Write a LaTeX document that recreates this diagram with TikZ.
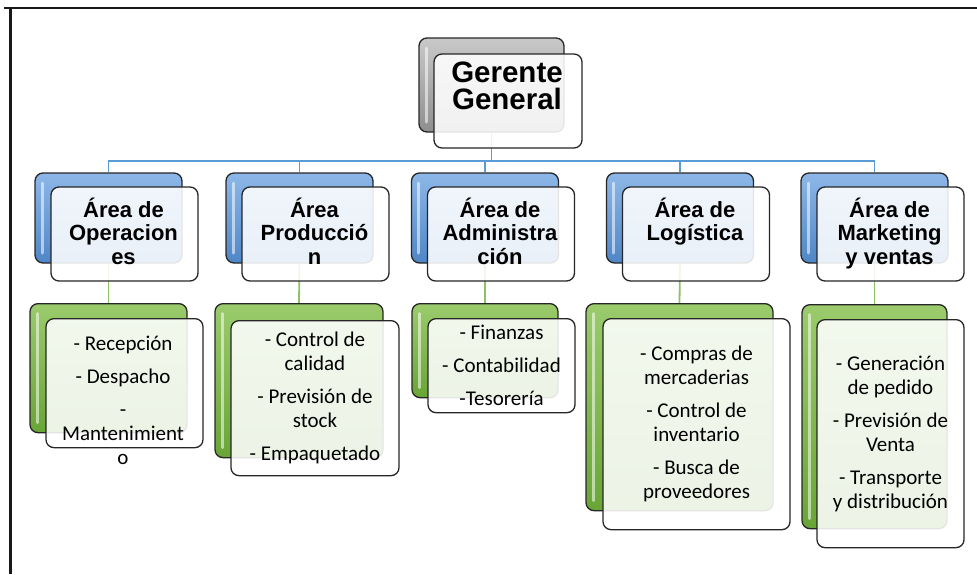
\documentclass[tikz,border=0pt]{standalone}
\usepackage{fontspec}
\setmainfont{Carlito}                       % 列表文字（Calibri 宽度）
\newfontfamily\headfont{Liberation Sans}    % 标题文字（Arial 宽度）
\usetikzlibrary{
  backgrounds,  % 连线放在背景层
  positioning   % 节点相对定位
}
\definecolor{grisA}{HTML}{C9C9C9}
\definecolor{grisB}{HTML}{8E8E8E}
\definecolor{azulA}{HTML}{8DB7E8}
\definecolor{azulB}{HTML}{4F86C6}
\definecolor{verdeA}{HTML}{9BCB6C}
\definecolor{verdeB}{HTML}{69A536}
\definecolor{lineaA}{HTML}{5B9BD5}
\definecolor{lineaV}{HTML}{8DC263}
\newcommand\fuentejefe{\headfont\bfseries\fontsize{29.5}{26.5}\selectfont}
\newcommand\fuentearea{\headfont\bfseries\fontsize{22}{23.5}\selectfont}
\newcommand\fuentelista{\fontsize{21}{24}\selectfont}

\begin{document}
\begin{tikzpicture}[x=1pt, y=-1pt, line width=1.3pt,
  caja/.style={draw=black!85, rounded corners=8pt, inner sep=0pt},
  brillo/.style={path picture={
    \draw[white, opacity=.55, line width=3pt, line cap=round]
      ([shift={(7,10)}]path picture bounding box.north west) --
      ([shift={(7,-10)}]path picture bounding box.south west);}},
  fondogris/.style={caja, top color=grisA, bottom color=grisB, brillo},
  fondoazul/.style={caja, top color=azulA, bottom color=azulB, brillo},
  fondoverde/.style={caja, top color=verdeA, bottom color=verdeB, brillo},
  frente/.style={caja, fill=white, fill opacity=.88, text opacity=1, align=center},
  area/.style={frente, minimum width=147pt, minimum height=94pt},
  titulo/.style={font=\fuentearea, align=center, anchor=north, inner sep=0pt},
  lista/.style={frente, font=\fuentelista},
  lineaazul/.style={lineaA, line width=1.8pt},
  lineaverde/.style={lineaV, line width=1.8pt}
]
  \useasboundingbox (0,0) rectangle (977,574);

  % 外框（只有上边和左边）
  \draw[line width=2pt, black!90] (4,8) -- (977,8);
  \draw[line width=2.5pt, black!90] (10.5,7) -- (10.5,574);

  % =========== 第一层：Gerente General ===========
  \node[fondogris, minimum width=145pt, minimum height=94pt] (gg) at (491.5,85) {};
  \node[frente, anchor=north west, minimum width=148pt, minimum height=94pt]
    (gg-f) at ([shift={(15,16)}]gg.north west) {};
  \node[font=\fuentejefe, align=center] (gg-t) at (507,86) {Gerente\\General};

  % =========== 第二层：各区域（文字靠上） ===========
  \node[fondoazul, minimum width=147pt, minimum height=90pt] (op) at (108.5,218) {};
  \node[area, anchor=north west] (op-f) at ([shift={(16,14)}]op.north west) {};
  \node[titulo] (op-t) at ([shift={(-1,10.5)}]op-f.north) {Área de\\Operacion\\es};

  \node[fondoazul, minimum width=147pt, minimum height=90pt] (pr) at (299.5,218) {};
  \node[area, anchor=north west] (pr-f) at ([shift={(16,14)}]pr.north west) {};
  \node[titulo] (pr-t) at ([shift={(-1,10.5)}]pr-f.north) {Área\\Producció\\n};

  \node[fondoazul, minimum width=147pt, minimum height=90pt] (ad) at (485,218) {};
  \node[area, anchor=north west] (ad-f) at ([shift={(16,14)}]ad.north west) {};
  \node[titulo] (ad-t) at ([shift={(-1,10.5)}]ad-f.north) {Área de\\Administra\\ción};

  \node[fondoazul, minimum width=147pt, minimum height=90pt] (lo) at (680,218) {};
  \node[area, anchor=north west] (lo-f) at ([shift={(16,14)}]lo.north west) {};
  \node[titulo] (lo-t) at ([shift={(-1,10.5)}]lo-f.north) {Área de\\Logística};

  \node[fondoazul, minimum width=147pt, minimum height=90pt] (mk) at (874.5,218) {};
  \node[area, anchor=north west] (mk-f) at ([shift={(16,14)}]mk.north west) {};
  \node[titulo] (mk-t) at ([shift={(-1,10.5)}]mk-f.north) {Área de\\Marketing\\y ventas};

  % =========== 第三层：职能列表 ===========
  \node[fondoverde, anchor=north, minimum width=157pt, minimum height=129pt] (op-l) at (108.5,303) {};
  \node[frente, anchor=north west, minimum width=157pt, minimum height=129pt]
    (op-lf) at ([shift={(16,15)}]op-l.north west) {};
  % 文字超出方框，单独放置
  \node[font=\fuentelista, align=center] (op-lt) at (123,400)
    {- Recepción\\[9pt]- Despacho\\[9pt]-\\Mantenimient\\o};

  \node[fondoverde, anchor=north, minimum width=168pt, minimum height=154pt] (pr-l) at (299,303) {};
  \node[lista, anchor=north west, minimum width=168pt, minimum height=155pt]
    (pr-lf) at ([shift={(16,17)}]pr-l.north west)
    {- Control de\\calidad\\[9pt]- Previsión de\\stock\\[9pt]- Empaquetado};

  \node[fondoverde, anchor=north, minimum width=146pt, minimum height=94pt] (ad-l) at (485,303) {};
  \node[lista, anchor=north west, minimum width=147pt, minimum height=94pt]
    (ad-lf) at ([shift={(16,15)}]ad-l.north west)
    {- Finanzas\\[9pt]- Contabilidad\\[9pt]-Tesorería};

  \node[fondoverde, anchor=north, minimum width=187pt, minimum height=207pt] (lo-l) at (679.5,303) {};
  \node[lista, anchor=north west, minimum width=187pt, minimum height=211pt]
    (lo-lf) at ([shift={(17,15)}]lo-l.north west)
    {- Compras de\\mercaderias\\[9pt]- Control de\\inventario\\[9pt]- Busca de\\proveedores};

  \node[fondoverde, anchor=north, minimum width=145pt, minimum height=224pt] (mk-l) at (874.5,304) {};
  \node[lista, anchor=north west, minimum width=147pt, minimum height=228pt]
    (mk-lf) at ([shift={(15,15)}]mk-l.north west)
    {- Generación\\de pedido\\[9pt]- Previsión de\\Venta\\[9pt]- Transporte\\y distribución};

  % =========== 连线（背景层） ===========
  \begin{scope}[on background layer]
    \draw[lineaazul] (gg.south) -- ++(0,28) -| (op.north);
    \draw[lineaazul] (gg.south) -- ++(0,28) -| (pr.north);
    \draw[lineaazul] (gg.south) -- ++(0,28) -| (ad.north);
    \draw[lineaazul] (gg.south) -- ++(0,28) -| (lo.north);
    \draw[lineaazul] (gg.south) -- ++(0,28) -| (mk.north);
    \draw[lineaverde] (op.south) -- (op-l.north);
    \draw[lineaverde] (pr.south) -- (pr-l.north);
    \draw[lineaverde] (ad.south) -- (ad-l.north);
    \draw[lineaverde] (lo.south) -- (lo-l.north);
    \draw[lineaverde] (mk.south) -- (mk-l.north);
  \end{scope}

\end{tikzpicture}
\end{document}
